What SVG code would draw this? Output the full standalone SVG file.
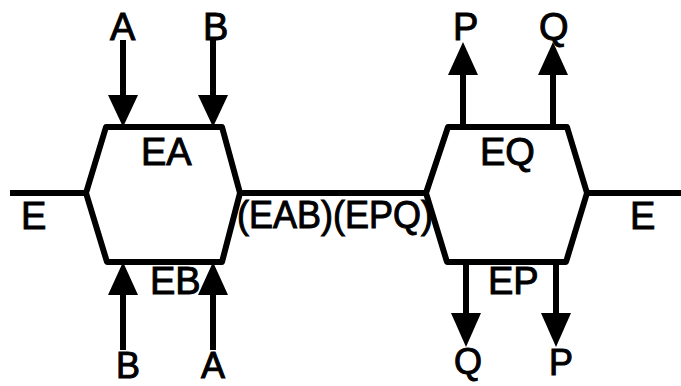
<svg xmlns="http://www.w3.org/2000/svg" width="681" height="386" viewBox="0 0 681 386">
  <style>
    .hex { fill: none; stroke: #000; stroke-width: 6; stroke-linejoin: round; }
    .line { stroke: #000; stroke-width: 6; fill: none; }
    .head { fill: #000; }
    text { font-family: "Liberation Sans", Arial, sans-serif; font-size: 38px; fill: #000; stroke: #000; stroke-width: 1; }
    .low { font-size: 36px; }
  </style>
  <rect width="681" height="386" fill="#fff"/>

  <!-- connectors: stream lines and input/output arrows -->
  <g id="connectors">
    <line class="line" x1="10" y1="193" x2="86" y2="193"/>
    <line class="line" x1="240" y1="193" x2="426" y2="193"/>
    <line class="line" x1="587" y1="193" x2="681" y2="193"/>

    <!-- inputs A, B into top of left node -->
    <line class="line" x1="123" y1="40" x2="123" y2="100"/>
    <polygon class="head" points="108,95 138,95 123,127"/>
    <line class="line" x1="213" y1="40" x2="213" y2="100"/>
    <polygon class="head" points="198,95 228,95 213,127"/>

    <!-- inputs B, A into bottom of left node -->
    <line class="line" x1="123" y1="350" x2="123" y2="290"/>
    <polygon class="head" points="108,295 138,295 123,262"/>
    <line class="line" x1="213" y1="350" x2="213" y2="290"/>
    <polygon class="head" points="198,295 228,295 213,262"/>

    <!-- outputs P, Q from top of right node -->
    <line class="line" x1="463" y1="127" x2="463" y2="70"/>
    <polygon class="head" points="448,75 478,75 463,42"/>
    <line class="line" x1="553" y1="127" x2="553" y2="70"/>
    <polygon class="head" points="538,75 568,75 553,42"/>

    <!-- outputs Q, P from bottom of right node -->
    <line class="line" x1="466" y1="262" x2="466" y2="318"/>
    <polygon class="head" points="451,313 481,313 466,347"/>
    <line class="line" x1="556" y1="262" x2="556" y2="318"/>
    <polygon class="head" points="541,313 571,313 556,347"/>
  </g>

  <g id="node-left">
    <polygon class="hex" points="106,127 222,127 240,193 222,262 107,262 86,193"/>
    <text x="141" y="165">EA</text>
    <text x="150" y="294">EB</text>
  </g>

  <g id="node-right">
    <polygon class="hex" points="448,127 567,127 587,193 566,262 447,262 426,193"/>
    <text x="480" y="165">EQ</text>
    <text x="488" y="294">EP</text>
  </g>

  <g id="labels">
    <text x="21" y="229">E</text>
    <text x="630" y="229">E</text>
    <text x="237" y="228" textLength="196" lengthAdjust="spacingAndGlyphs">(EAB)(EPQ)</text>
    <text x="110" y="40">A</text>
    <text x="203" y="40">B</text>
    <text class="low" x="116" y="378">B</text>
    <text class="low" x="201" y="378">A</text>
    <text class="low" x="454" y="374">Q</text>
    <text class="low" x="549" y="375">P</text>
    <text x="453" y="40">P</text>
    <text x="539" y="40">Q</text>
  </g>
</svg>
